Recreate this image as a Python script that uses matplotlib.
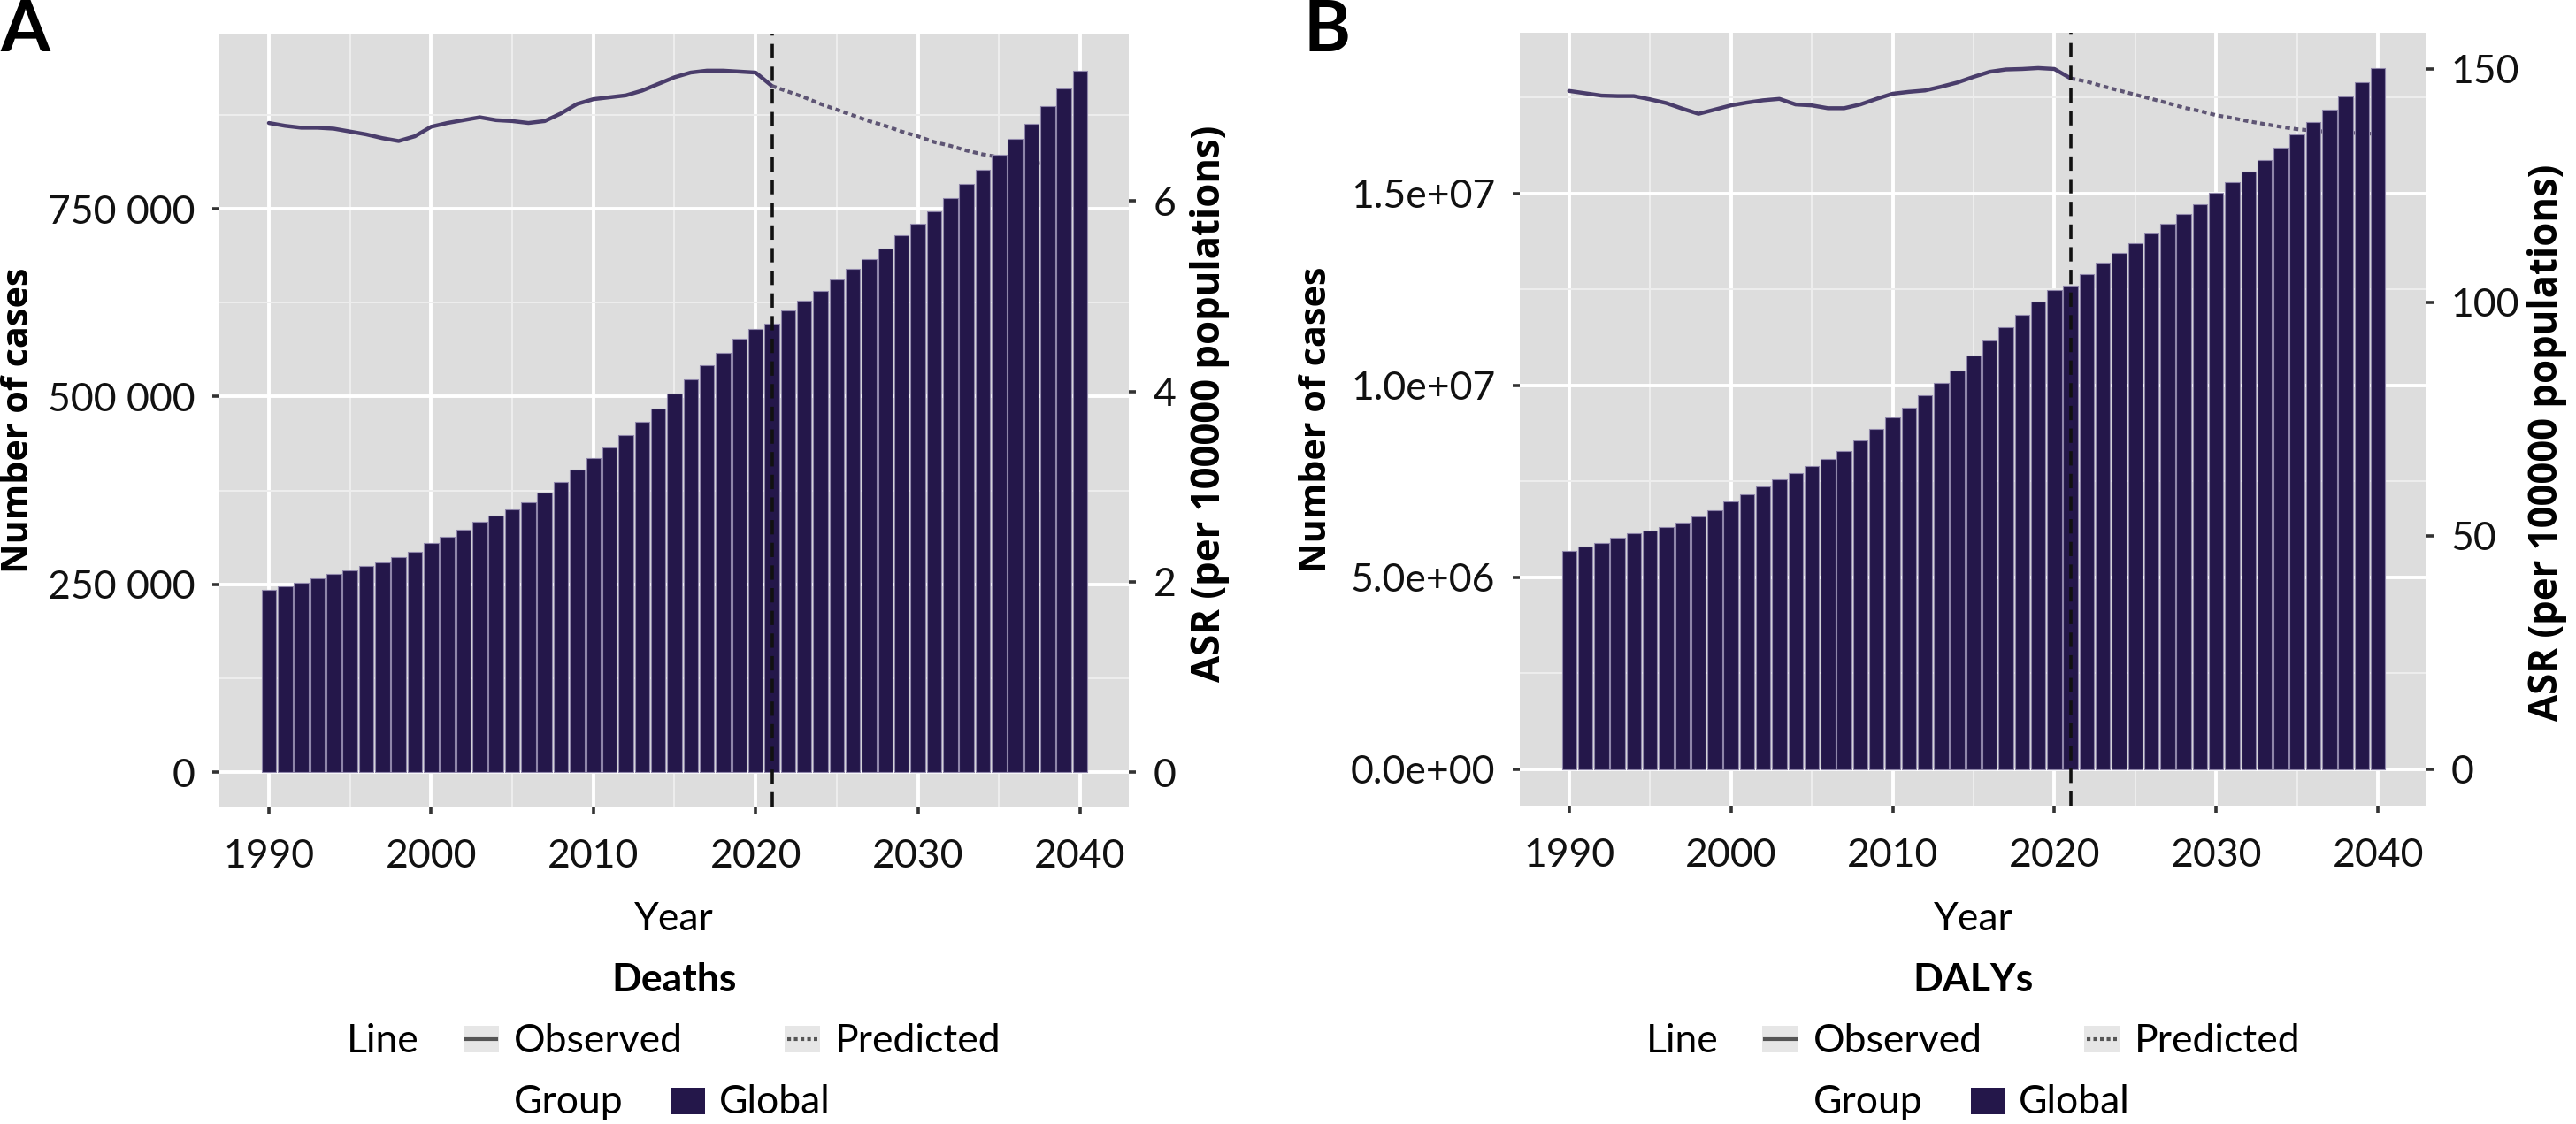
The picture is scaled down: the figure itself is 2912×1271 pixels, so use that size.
import numpy as np
import matplotlib
matplotlib.use("Agg")
import matplotlib.pyplot as plt
from matplotlib.patches import Rectangle
from matplotlib.lines import Line2D
from matplotlib.ticker import FuncFormatter, FixedLocator

plt.rcParams['font.family'] = ['Lato', 'DejaVu Sans']

# ---- data ----
years = np.arange(1990, 2041)
obs_years = np.arange(1990, 2022)
pred_years = np.arange(2021, 2041)

deaths_cases = [242100, 246900, 251600, 258300, 264000, 268800, 274500, 279300, 285900, 293600,
                305000, 313600, 323100, 333600, 341200, 349800, 359300, 371700, 386000, 402200,
                418400, 432700, 448900, 466100, 484200, 504200, 523300, 541400, 558500, 576600,
                590000, 597600, 614700, 627100, 640500, 655700, 670000, 683400, 697700, 714800,
                730100, 746300, 764400, 783400, 801600, 822500, 843500, 863500, 886400, 910200,
                934000]
deaths_asr_obs = [6.82, 6.79, 6.77, 6.77, 6.76, 6.73, 6.70, 6.66, 6.63, 6.68,
                  6.78, 6.82, 6.85, 6.88, 6.85, 6.84, 6.82, 6.84, 6.92, 7.02,
                  7.07, 7.09, 7.11, 7.16, 7.23, 7.30, 7.35, 7.37, 7.37, 7.36,
                  7.35, 7.21]
deaths_asr_pred = [7.21, 7.15, 7.09, 7.02, 6.96, 6.90, 6.84, 6.79, 6.73, 6.68,
                   6.62, 6.58, 6.53, 6.49, 6.46, 6.43, 6.41, 6.39, 6.37, 6.35]

dalys_cases = [5.70e6, 5.81e6, 5.90e6, 6.03e6, 6.14e6, 6.22e6, 6.31e6, 6.42e6, 6.59e6, 6.76e6,
               6.97e6, 7.17e6, 7.38e6, 7.56e6, 7.71e6, 7.90e6, 8.09e6, 8.29e6, 8.57e6, 8.87e6,
               9.17e6, 9.43e6, 9.75e6, 10.07e6, 10.40e6, 10.78e6, 11.17e6, 11.52e6, 11.84e6, 12.18e6,
               12.49e6, 12.61e6, 12.91e6, 13.19e6, 13.45e6, 13.71e6, 13.97e6, 14.21e6, 14.47e6, 14.72e6,
               15.02e6, 15.30e6, 15.58e6, 15.88e6, 16.19e6, 16.53e6, 16.87e6, 17.18e6, 17.54e6, 17.89e6,
               18.27e6]
dalys_asr_obs = [145.3, 144.8, 144.3, 144.2, 144.2, 143.5, 142.7, 141.5, 140.4, 141.3,
                 142.2, 142.8, 143.3, 143.6, 142.4, 142.2, 141.6, 141.6, 142.4, 143.6,
                 144.7, 145.1, 145.4, 146.2, 147.1, 148.3, 149.4, 149.9, 150.0, 150.2,
                 150.0, 148.0]
dalys_asr_pred = [148.0, 147.3, 146.3, 145.4, 144.5, 143.6, 142.7, 141.7, 141.0, 140.1,
                  139.5, 138.8, 138.2, 137.6, 137.1, 136.8, 136.5, 136.4, 136.2, 136.1]

W, H = 2912, 1271
BAR = '#24174a'
LINE = '#4a3d6b'
FS = 32
TITLE_FONT = ['Open Sans', 'DejaVu Sans']

fig = plt.figure(figsize=(W / 100, H / 100), dpi=100)
renderer = fig.canvas.get_renderer()


def fx(x):
    return x / W


def fy(y):
    return 1 - y / H


def fit_len(t, target):
    # scale the font so the rotated title spans `target` pixels
    ext = t.get_window_extent(renderer)
    t.set_fontsize(t.get_fontsize() * target / ext.height)


def sp_fmt(v, pos):
    return format(int(round(v)), ',').replace(',', ' ')


def sci_fmt(v, pos):
    return '%.1e' % v


def panel(left, right, top, bottom, cases, asr_obs, asr_pred, ylim, yticks, fmt,
          rticks, letter, name, letter_x, ylab_x, rlab_x, rlab_y):
    ax = fig.add_axes([fx(left), fy(bottom), fx(right - left), (bottom - top) / H])
    ax.set_facecolor('#DDDDDD')
    for s in ax.spines.values():
        s.set_visible(False)
    k = max(cases) / max(max(asr_obs), max(asr_pred))

    ax.plot(obs_years, np.array(asr_obs) * k, color=LINE, lw=3.2, zorder=1.5,
            solid_capstyle='round')
    ax.plot(pred_years, np.array(asr_pred) * k, color='#5e5574', lw=3.0,
            linestyle=(0, (1.3, 1.0)), zorder=1.5)
    ax.bar(years, cases, width=0.9, color=BAR, edgecolor='#8f86aa', linewidth=0.8, zorder=2)
    ax.axvline(2021, color='#111111', lw=2.6, linestyle=(0, (4.5, 2.6)), zorder=3)

    ax.set_xlim(1986.95, 2043.0)
    ax.set_ylim(*ylim)
    ax.set_xticks([1990, 2000, 2010, 2020, 2030, 2040])
    ax.xaxis.set_minor_locator(FixedLocator([1995, 2005, 2015, 2025, 2035]))
    ax.set_yticks(yticks)
    step = yticks[1] - yticks[0]
    ax.yaxis.set_minor_locator(FixedLocator([t + step / 2 for t in [yticks[0] - step] + list(yticks)]))
    ax.yaxis.set_major_formatter(FuncFormatter(fmt))
    ax.set_axisbelow(True)
    ax.grid(which='major', color='white', lw=2.8)
    ax.grid(which='minor', color='#EEEEEE', lw=1.4)
    ax.tick_params(which='major', length=6, width=2.6, color='#333333',
                   labelsize=FS, labelcolor='#111111')
    ax.tick_params(axis='x', pad=20)
    ax.tick_params(axis='y', pad=14)
    ax.tick_params(which='minor', length=0)

    sec = ax.secondary_yaxis('right', functions=(lambda v: v / k, lambda v: v * k))
    sec.spines['right'].set_visible(False)
    sec.set_yticks(rticks)
    sec.tick_params(length=6, width=2.6, color='#333333', labelsize=FS,
                    labelcolor='#111111', pad=14)

    cy = fy((top + bottom) / 2)
    cx = (left + right) / 2
    fig.text(fx(letter_x), fy(58), letter, fontsize=58, fontweight='bold',
             ha='left', va='baseline')
    t1 = fig.text(fx(ylab_x), cy, 'Number of cases', rotation=90, fontsize=39,
                  fontweight='bold', family=TITLE_FONT, ha='center', va='center')
    fit_len(t1, 344)
    t2 = fig.text(fx(rlab_x), fy(rlab_y), 'ASR (per 100000 populations)', rotation=90,
                  fontsize=39, fontweight='bold', family=TITLE_FONT,
                  ha='center', va='center')
    fit_len(t2, 628)
    fig.text(fx(cx), fy(1052), 'Year', fontsize=FS, ha='center', va='baseline')
    fig.text(fx(cx), fy(1121), name, fontsize=FS, fontweight='bold', ha='center', va='baseline')

    # legend, laid out relative to the panel centre
    d = cx - 762
    b1, b2 = 1190, 1259
    fig.text(fx(392 + d), fy(b1), 'Line', fontsize=FS, ha='left', va='baseline')
    for kx, style, label in [(524, '-', 'Observed'), (887, (0, (1, 0.8)), 'Predicted')]:
        fig.add_artist(Rectangle((fx(kx + d), fy(1190)), fx(40), 30 / H,
                                 transform=fig.transFigure, facecolor='#E6E6E6', edgecolor='none'))
        fig.add_artist(Line2D([fx(kx + 3 + d), fx(kx + 37 + d)], [fy(1175), fy(1175)],
                              transform=fig.transFigure, color='#555555', lw=3,
                              linestyle=style))
        fig.text(fx(kx + 57 + d), fy(b1), label, fontsize=FS, ha='left', va='baseline')
    fig.text(fx(581 + d), fy(b2), 'Group', fontsize=FS, ha='left', va='baseline')
    fig.add_artist(Rectangle((fx(759 + d), fy(1260)), fx(38), 30 / H,
                             transform=fig.transFigure, facecolor=BAR, edgecolor='none'))
    fig.text(fx(813 + d), fy(b2), 'Global', fontsize=FS, ha='left', va='baseline')
    return ax


panel(248, 1276, 38, 912, deaths_cases, deaths_asr_obs, deaths_asr_pred,
      (-45900, 983300), [0, 250000, 500000, 750000], sp_fmt, [0, 2, 4, 6],
      'A', 'Deaths', 0, 22, 1368, 456)
panel(1718, 2743, 37, 911, dalys_cases, dalys_asr_obs, dalys_asr_pred,
      (-945000, 19.19e6), [0, 5e6, 10e6, 15e6], sci_fmt, [0, 50, 100, 150],
      'B', 'DALYs', 1474, 1489, 2880, 500)

fig.savefig('out.png', dpi=100)
